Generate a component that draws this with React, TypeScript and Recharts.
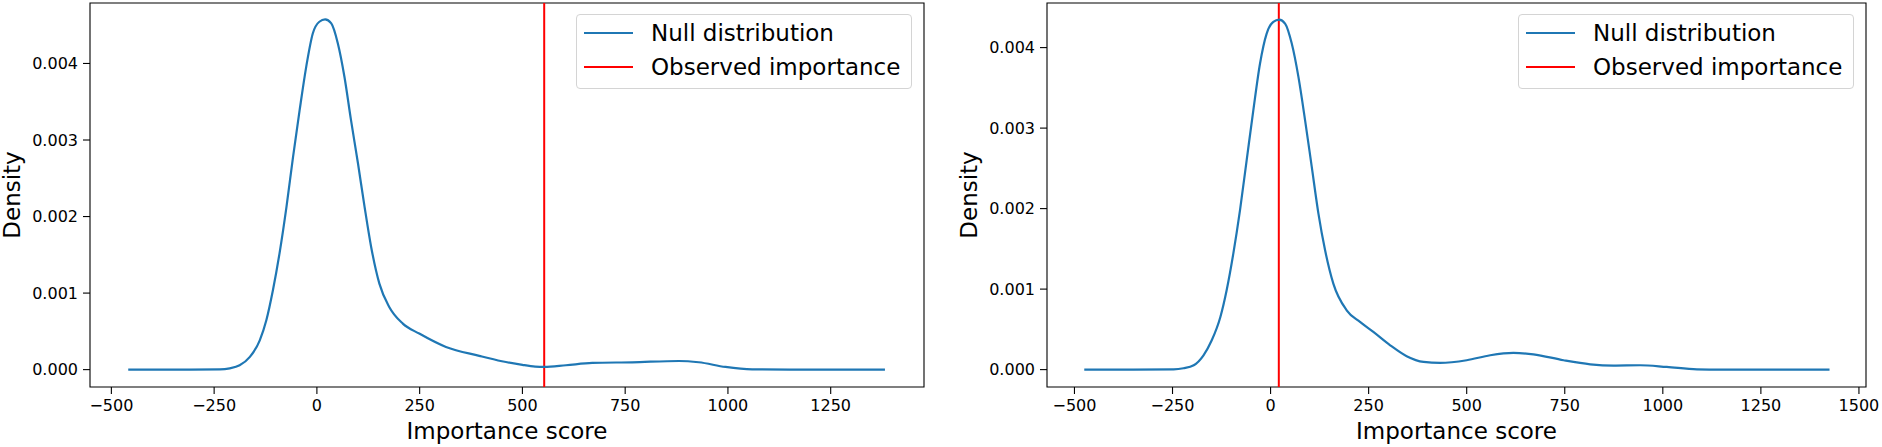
import React from 'react';
import { LineChart, Line, XAxis, YAxis, ReferenceLine, ReferenceArea, Legend } from 'recharts';

// left panel: null distribution of importance scores (KDE)
const leftScore = [
  -459, -350, -236, -212, -188, -163, -139, -123, -107, -91, -74, -58, -42, -26, -10, 6, 20, 35, 51,
  67, 83, 100, 116, 132, 152, 176, 209, 249, 314, 395, 450, 500, 531, 553, 606, 670, 767, 881, 929,
  994, 1059, 1150, 1250, 1382,
];
const leftDensity = [
  0, 0, 0.000003, 0.000017, 0.000057, 0.000166, 0.000383, 0.000645, 0.001037, 0.001516, 0.002126,
  0.00278, 0.00339, 0.003956, 0.004392, 0.004545, 0.004575, 0.004523, 0.004261, 0.003826, 0.003259,
  0.002693, 0.002126, 0.001603, 0.001124, 0.000819, 0.000601, 0.000471, 0.000296, 0.00018,
  0.00011, 0.000062, 0.00004, 0.000035, 0.000057, 0.000087, 0.000096, 0.000113, 0.000096,
  0.000035, 0.000004, 0, 0, 0,
];
const leftObserved = 553;
const leftXTicks = [-500, -250, 0, 250, 500, 750, 1000, 1250];

// right panel
const rightScore = [
  -475, -350, -247, -222, -196, -171, -150, -128, -112, -95, -78, -61, -44, -27, -10, 7, 22, 37, 54,
  71, 88, 105, 122, 139, 160, 194, 228, 262, 305, 347, 390, 432, 500, 560, 619, 670, 747, 815, 874,
  942, 1010, 1087, 1150, 1300, 1425,
];
const rightDensity = [
  0, 0, 0.000003, 0.000017, 0.000054, 0.000178, 0.000364, 0.000654, 0.000986, 0.001441, 0.001979,
  0.0026, 0.00322, 0.0038, 0.004174, 0.004319, 0.004348, 0.004298, 0.00405, 0.003636, 0.003097,
  0.002518, 0.001938, 0.001482, 0.001068, 0.000737, 0.000592, 0.000468, 0.000302, 0.000166,
  0.000095, 0.000083, 0.000116, 0.000178, 0.000207, 0.00019, 0.000116, 0.000066, 0.00005, 0.000054,
  0.000033, 0.000004, 0, 0, 0,
];
const rightObserved = 21;
const rightXTicks = [-500, -250, 0, 250, 500, 750, 1000, 1250, 1500];

const yTicks = [0, 0.001, 0.002, 0.003, 0.004];
const legendLabels = ['Null distribution', 'Observed importance'];

const FONT = '"DejaVu Sans", sans-serif';
const BLUE = '#1f77b4';
const RED = '#ff0000';
const legendColors = [BLUE, RED];

const fmtX = (v: number) => (v < 0 ? `\u2212${Math.abs(v)}` : `${v}`);
const fmtY = (v: number) => v.toFixed(3);

const DensityLabel = (props: any) => {
  const { x, y, width, height } = props.viewBox;
  const cx = x + width - 70;
  const cy = y + height / 2;
  return (
    <text x={cx} y={cy} transform={`rotate(-90 ${cx} ${cy})`} textAnchor="middle" fill="#000" fontSize={23} fontFamily={FONT}>
      Density
    </text>
  );
};

const LegendBox = () => (
  <div
    style={{
      width: 336, height: 75, boxSizing: 'border-box', border: '1.3px solid #d4d4d4', borderRadius: 4,
      background: '#fff', fontFamily: FONT, fontSize: 23, color: '#000', position: 'relative',
    }}
  >
    {legendLabels.map((label, i) => (
      <div key={label} style={{ position: 'absolute', left: 7, top: 1 + 34 * i, height: 34, display: 'flex', alignItems: 'center', whiteSpace: 'nowrap' }}>
        <span style={{ display: 'inline-block', width: 49, height: 2, background: legendColors[i], marginRight: 18 }} />
        <span>{label}</span>
      </div>
    ))}
  </div>
);

interface PanelProps {
  scores: number[];
  density: number[];
  observed: number;
  xDomain: [number, number];
  yDomain: [number, number];
  xTicks: number[];
  width: number;
  yAxisWidth: number;
  legendLeft: number;
}

const Panel: React.FC<PanelProps> = ({ scores, density, observed, xDomain, yDomain, xTicks, width, yAxisWidth, legendLeft }) => {
  const data = scores.map((s, i) => ({ score: s, density: density[i] }));
  const tickStyle = { fill: '#000', fontSize: 16, fontFamily: FONT };
  return (
    <LineChart width={width} height={447} data={data} margin={{ top: 3, right: 16, bottom: 0, left: 0 }}>
      <XAxis
        dataKey="score" type="number" domain={xDomain} ticks={xTicks} allowDataOverflow interval={0}
        height={60} tickSize={7} tickMargin={6} axisLine={false} tickLine={{ stroke: '#000', strokeWidth: 1.1 }}
        tick={tickStyle} tickFormatter={fmtX}
        label={{ value: 'Importance score', position: 'insideBottom', offset: 8, fill: '#000', fontSize: 23, fontFamily: FONT }}
      />
      <YAxis
        type="number" domain={yDomain} ticks={yTicks} allowDataOverflow interval={0}
        width={yAxisWidth} tickSize={7} tickMargin={5} axisLine={false} tickLine={{ stroke: '#000', strokeWidth: 1.1 }}
        tick={tickStyle} tickFormatter={fmtY} label={<DensityLabel />}
      />
      <ReferenceArea x1={xDomain[0]} x2={xDomain[1]} y1={yDomain[0]} y2={yDomain[1]} fill="none" fillOpacity={0} stroke="#000" strokeWidth={1.1} />
      <ReferenceLine x={observed} stroke={RED} strokeWidth={2} />
      <Line dataKey="density" type="monotone" stroke={BLUE} strokeWidth={2.2} dot={false} isAnimationActive={false} />
      <Legend layout="vertical" align="center" verticalAlign="middle" wrapperStyle={{ top: 14, left: legendLeft, width: 336 }} content={() => <LegendBox />} />
    </LineChart>
  );
};

export default function App() {
  return (
    <div style={{ position: 'absolute', left: 0, top: 0, width: 1882, height: 447, background: '#fff' }}>
      <div style={{ position: 'absolute', left: 0, top: 0 }}>
        <Panel
          scores={leftScore} density={leftDensity} observed={leftObserved}
          xDomain={[-552, 1477]} yDomain={[-0.000227, 0.00479]} xTicks={leftXTicks}
          width={940} yAxisWidth={90} legendLeft={576}
        />
      </div>
      <div style={{ position: 'absolute', left: 940, top: 0 }}>
        <Panel
          scores={rightScore} density={rightDensity} observed={rightObserved}
          xDomain={[-570, 1518]} yDomain={[-0.000216, 0.004554]} xTicks={rightXTicks}
          width={942} yAxisWidth={107} legendLeft={578}
        />
      </div>
    </div>
  );
}
